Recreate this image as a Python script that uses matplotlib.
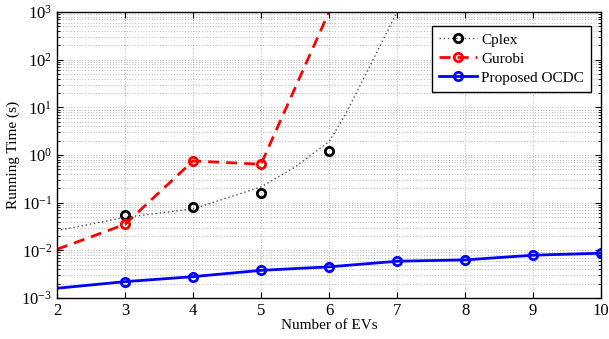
import matplotlib
matplotlib.use('Agg')
import matplotlib.pyplot as plt
from matplotlib.ticker import LogLocator, NullFormatter, FixedLocator

plt.rcParams['font.family'] = ['Liberation Serif', 'DejaVu Serif']
plt.rcParams['mathtext.fontset'] = 'custom'
plt.rcParams['mathtext.rm'] = 'Liberation Serif'
plt.rcParams['mathtext.it'] = 'Liberation Serif:italic'

# measured running times (s)
cplex_x = [3, 4, 5, 6]
cplex_t = [0.056, 0.082, 0.16, 1.21]
# trend curve for cplex
cplex_fit_x = [2, 3, 4, 5, 5.5, 6, 6.25, 7]
cplex_fit_t = [0.026, 0.049, 0.074, 0.214, 0.56, 1.9, 7.5, 1000]

gurobi_x = [2, 3, 4, 5, 6]
gurobi_t = [0.0105, 0.035, 0.75, 0.64, 1000]

ocdc_x = [2, 3, 4, 5, 6, 7, 8, 9, 10]
ocdc_t = [0.0016, 0.0022, 0.0028, 0.0038, 0.0045, 0.0059, 0.0063, 0.0079, 0.0087]

fig = plt.figure(figsize=(6.09, 3.39), dpi=100)
ax = fig.add_axes([0.0936, 0.121, 0.8934, 0.8436])

grid_kw = dict(color='0.45', linestyle=(0, (1, 3)), linewidth=0.5)
ax.grid(True, which='major', axis='both', **grid_kw)
ax.grid(True, which='minor', axis='y', **grid_kw)
ax.set_axisbelow(True)

c_line, = ax.semilogy(cplex_fit_x, cplex_fit_t, color='0.3', linestyle=(0, (1, 2)), linewidth=1.0)
c_mark, = ax.semilogy(cplex_x, cplex_t, linestyle='none', marker='o', markersize=6,
                      markerfacecolor='none', markeredgecolor='black', markeredgewidth=2)
g_line, = ax.semilogy(gurobi_x, gurobi_t, color='red', linestyle=(0, (4, 2.5)), linewidth=2,
                      marker='o', markersize=6, markerfacecolor='none',
                      markeredgewidth=2, markevery=[1, 2, 3])
b_line, = ax.semilogy(ocdc_x, ocdc_t, color='blue', linestyle='-', linewidth=2,
                      marker='o', markersize=6, markerfacecolor='none',
                      markeredgewidth=2, markevery=list(range(1, len(ocdc_x))))

ax.set_xlim(2, 10)
ax.set_ylim(1e-3, 1e3)
ax.xaxis.set_major_locator(FixedLocator(range(2, 11)))
ax.yaxis.set_major_locator(LogLocator(base=10, numticks=10))
ax.yaxis.set_minor_locator(LogLocator(base=10, subs=range(2, 10), numticks=20))
ax.yaxis.set_minor_formatter(NullFormatter())

ax.tick_params(which='both', direction='in', top=True, right=True, labelsize=12)
ax.tick_params(which='major', length=4, width=0.8)
ax.tick_params(which='minor', length=2, width=0.6)
for s in ax.spines.values():
    s.set_linewidth(1.0)

ax.set_xlabel('Number of EVs', fontsize=11, labelpad=0)
ax.set_ylabel('Running Time (s)', fontsize=11, labelpad=1)

leg = ax.legend([(c_line, c_mark), g_line, b_line], ['Cplex', 'Gurobi', 'Proposed OCDC'],
                loc='upper right', bbox_to_anchor=(0.9816, 0.951), borderaxespad=0,
                fontsize=11, fancybox=False, framealpha=1, edgecolor='black',
                handlelength=2.5, borderpad=0.45, labelspacing=0.35, handletextpad=0.3)
leg.get_frame().set_linewidth(1.0)

fig.savefig('out.png', dpi=100)
